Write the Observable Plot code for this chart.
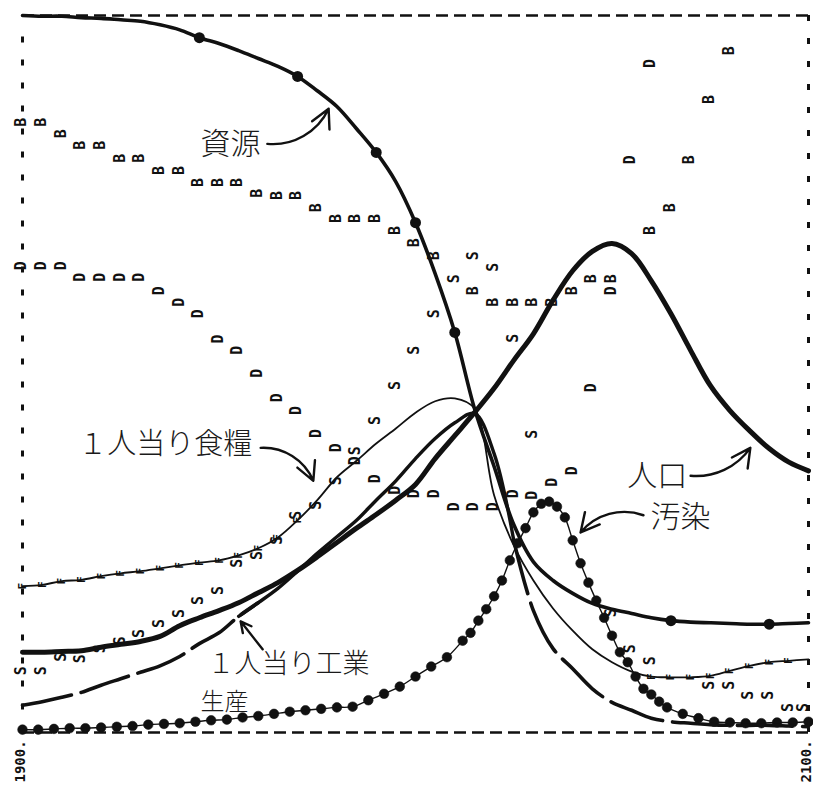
<!DOCTYPE html>
<html><head><meta charset="utf-8">
<script src="https://cdn.jsdelivr.net/npm/d3@7"></script>
<script src="https://cdn.jsdelivr.net/npm/@observablehq/plot@0.6"></script>
<style>html,body{margin:0;padding:0;background:#fff;} #chart svg{display:block;}</style>
</head><body><div id="chart"></div>
<script>
// ---- data (relative level, 0–100 % of chart height), by year ----
const years = [1900,1905,1910,1915,1920,1925,1930,1935,1940,1945,1950,1955,1960,1965,1970,1975,1980,1985,1990,1995,2000,2005,2010,2015,2020,2025,2030,2035,2040,2045,2050,2055,2060,2065,2070,2075,2080,2085,2090,2095,2100];
const resources = [100.0,99.9,99.9,99.7,99.6,99.4,99.2,98.7,98.0,96.9,96.1,95.1,94.0,92.9,91.5,89.5,87.3,84.2,80.9,76.8,71.1,64.0,55.8,45.2,37.1,29.0,23.8,21.2,19.4,18.0,17.2,16.6,16.0,15.6,15.4,15.3,15.2,15.1,15.1,15.2,15.3];
const resourceMarkYears = [1945,1970,1990,2000,2010,2065,2090];
const population = [11.2,11.2,11.3,11.4,11.9,12.3,12.7,13.4,14.9,16.0,17.0,18.1,19.5,20.9,22.6,24.5,26.5,28.5,30.4,32.4,34.6,38.2,41.4,44.6,48.0,51.9,55.6,60.3,64.4,67.1,68.2,66.8,63.0,58.4,53.3,48.4,44.9,42.1,39.6,37.7,36.5];
const industry = [3.8,4.3,4.9,5.6,6.6,7.5,8.4,9.3,10.6,12.4,13.9,16.2,18.1,20.1,22.5,25.0,27.3,29.6,32.4,35.1,38.2,41.0,43.2,44.5,38.9,26.8,17.0,11.7,8.9,6.1,4.2,3.1,2.0,1.5,1.3,1.1,1.0,1.0,1.0,0.9,0.8];
const food = [20.4,20.6,21.1,21.3,21.8,22.2,22.5,22.9,23.3,23.7,24.0,24.7,25.7,27.2,29.6,32.4,35.6,37.9,40.3,42.4,44.6,46.2,46.6,45.2,33.1,26.1,21.2,17.3,14.2,11.6,9.8,8.5,7.8,7.7,7.7,7.9,8.6,9.3,9.8,10.0,10.2];
const birthRate = [85.1,85.1,83.5,81.9,81.9,80.1,80.1,78.4,78.4,76.7,76.7,76.7,75.2,74.9,74.9,73.2,71.7,71.7,71.7,70.0,68.3,66.5,null,61.6,60.0,60.0,60.0,60.0,61.6,63.3,63.3,null,70.0,73.2,79.9,88.3,95.1,null,null,null,null];
const deathRate = [65.1,65.1,65.1,63.5,63.5,63.5,63.5,61.6,60.0,58.4,54.9,53.3,50.1,46.7,44.9,41.7,39.7,37.9,35.4,33.8,33.3,33.3,31.5,31.5,31.5,33.3,33.1,34.9,36.5,48.1,61.6,79.9,93.3,null,null,null,null,null,null,null,null];
const services = [8.6,8.6,10.5,10.3,11.7,12.8,13.8,15.2,16.6,18.4,19.8,23.6,24.7,26.8,30.3,31.7,35.1,39.3,43.5,48.4,53.3,58.4,63.3,66.5,64.9,55.0,41.6,null,null,null,16.7,11.7,10.0,null,null,6.6,6.6,5.2,5.2,3.5,3.5];
const pollutionYears = [1900,1904,1908,1912,1916,1920,1924,1928,1932,1936,1940,1944,1948,1952,1956,1960,1964,1968,1972,1976,1980,1984,1988,1992,1996,2000,2004,2008,2012,2014,2016,2018,2020,2022,2024,2026,2028,2030,2032,2034,2036,2038,2040,2042,2044,2046,2048,2050,2052,2054,2056,2058,2060,2062,2064,2068,2072,2076,2080,2084,2088,2092,2096,2100];
const pollution = [0.4,0.4,0.5,0.6,0.6,0.7,0.8,0.9,1.1,1.2,1.3,1.5,1.7,1.8,2.1,2.3,2.6,2.9,3.1,3.3,3.5,3.6,4.5,5.4,6.4,7.8,9.2,10.5,12.8,13.9,15.6,17.2,19.0,21.2,24.0,26.4,28.5,30.7,31.9,32.2,31.5,30.0,26.8,23.6,20.9,18.4,16.0,13.5,11.2,9.8,7.8,6.1,5.3,4.3,3.5,2.6,2.0,1.5,1.4,1.3,1.3,1.4,1.4,1.5];
const axisYears = [1900, 2100];
const axisLabels = ["1900.", "2100."];
// annotations
const labelTexts = ["資源", "１人当り食糧", "人口", "汚染", "１人当り工業", "生産"];
const labelYears = [1945.3, 1914.2, 2053.9, 2059.8, 1947.1, 1945.3];
const labelValues = [82.0, 40.2, 35.7, 30.0, 9.5, 4.2];
const labelSizes = [30, 29, 30, 30, 27, 24];
const arrowX1 = [1962.3, 1960.6, 2070.0, 2058.0, 1961.1];
const arrowY1 = [82.1, 39.7, 35.8, 30.3, 11.6];
const arrowX2 = [1977.9, 1974.0, 2085.2, 2042.0, 1955.5];
const arrowY2 = [87.0, 35.1, 39.7, 27.9, 15.5];
const arrowBend = [-35, 35, -30, -35, 0];

// ---- tables ----
const rows = years.map((year, i) => ({year, resources: resources[i], population: population[i], industry: industry[i], food: food[i]}));
const letterRows = (arr, ch) => years.map((year, i) => ({year, v: arr[i], ch})).filter(d => d.v != null);
const letters = [...letterRows(birthRate, "B"), ...letterRows(deathRate, "D"), ...letterRows(services, "S")];
const pollRows = pollutionYears.map((year, i) => ({year, v: pollution[i]}));
const labels = labelTexts.map((t, i) => ({t, x: labelYears[i], y: labelValues[i], s: labelSizes[i]}));
const arrows = arrowX1.map((x1, i) => ({x1, y1: arrowY1[i], x2: arrowX2[i], y2: arrowY2[i], bend: arrowBend[i]}));
const foodMarks = rows.filter(d => d.year <= 1970 || (d.year >= 2060 && d.year < 2100));
const axisRows = axisYears.map((year, i) => ({year, t: axisLabels[i]}));

const ink = "#111";
const letterStyle = {x: "year", y: "v", text: "ch", rotate: -90, fontSize: 15, fontFamily: "DejaVu Sans Mono", fontWeight: "bold", fill: ink};
const chart = Plot.plot({
  width: 813, height: 798,
  marginLeft: 22, marginRight: 5, marginTop: 15, marginBottom: 66,
  x: {domain: [1900, 2100], axis: null},
  y: {domain: [0, 100], axis: null},
  style: {background: "#fff", overflow: "visible"},
  marks: [
    Plot.ruleY([100], {stroke: ink, strokeWidth: 2.6, strokeDasharray: "12,6"}),
    Plot.ruleY([0], {stroke: ink, strokeWidth: 2.4, strokeDasharray: "12,6"}),
    Plot.ruleX([1900], {y1: 97, y2: 0, stroke: ink, strokeWidth: 3, strokeDasharray: "6,17"}),
    Plot.ruleX([2100], {stroke: ink, strokeWidth: 3, strokeDasharray: "6,17"}),
    // pollution
    Plot.line(pollRows, {x: "year", y: "v", stroke: ink, strokeWidth: 1.4, curve: "catmull-rom"}),
    Plot.dot(pollRows, {x: "year", y: "v", r: 4.8, fill: ink, stroke: ink, strokeWidth: 0.6}),
    // resources
    Plot.line(rows, {x: "year", y: "resources", stroke: ink, strokeWidth: 3.6, curve: "catmull-rom"}),
    Plot.dot(rows.filter(d => resourceMarkYears.includes(d.year)), {x: "year", y: "resources", r: 5.5, fill: ink}),
    // population
    Plot.line(rows, {x: "year", y: "population", stroke: ink, strokeWidth: 5, curve: "catmull-rom"}),
    // industrial output per capita
    Plot.line(rows.filter(d => d.year >= 1955 && d.year <= 2025), {x: "year", y: "industry", stroke: ink, strokeWidth: 3.4, curve: "catmull-rom"}),
    Plot.line(rows.filter(d => d.year <= 1960), {x: "year", y: "industry", stroke: ink, strokeWidth: 3.6, strokeDasharray: "50,10", curve: "catmull-rom"}),
    Plot.line(rows.filter(d => d.year >= 2025), {x: "year", y: "industry", stroke: ink, strokeWidth: 3.6, strokeDasharray: "55,10", curve: "catmull-rom"}),
    // food per capita
    Plot.line(rows, {x: "year", y: "food", stroke: ink, strokeWidth: 1.8, curve: "catmull-rom"}),
    Plot.text(foodMarks, {x: "year", y: "food", text: () => "F", rotate: -90, fontSize: 11, fontFamily: "DejaVu Sans Mono", fontWeight: "bold", fill: ink}),
    // letter series (birth rate B, death rate D, services per capita S)
    Plot.text(letters.filter(d => d.year < 2100), {...letterStyle, dx: -1}),
    Plot.text(letters.filter(d => d.year === 2100), {...letterStyle, dx: -5}),
    // annotations
    Plot.text(labels, {x: "x", y: "y", text: "t", fontSize: "s", textAnchor: "start", lineAnchor: "middle", fontFamily: "Noto Sans CJK JP", fontWeight: 300, fill: "#1a1a1a"}),
    ...arrows.map(a => Plot.arrow([a], {x1: "x1", y1: "y1", x2: "x2", y2: "y2", bend: a.bend, stroke: ink, strokeWidth: 2.4, headLength: 13, headAngle: 55})),
    // year labels
    Plot.text(axisRows, {x: "year", y: () => -1.1, text: "t", rotate: -90, textAnchor: "end", lineAnchor: "middle", dx: -2, fontSize: 14, fontWeight: "bold", fontFamily: "DejaVu Sans Mono", fill: ink})
  ]
});
document.getElementById("chart").appendChild(chart);
</script>
</body></html>
